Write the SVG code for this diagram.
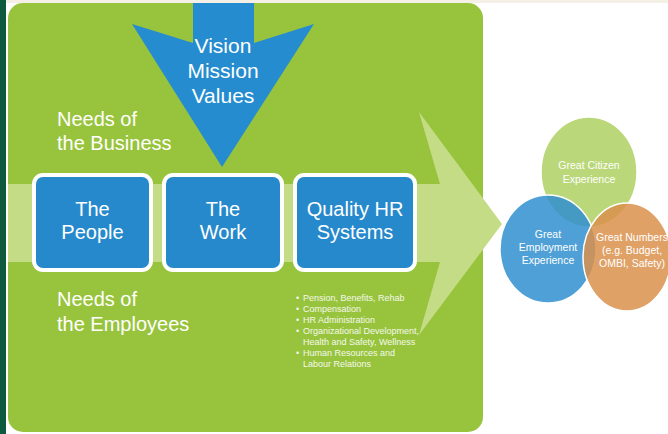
<svg xmlns="http://www.w3.org/2000/svg" width="668" height="434" viewBox="0 0 668 434">
  <defs>
    <style>
      .t { font-family: "Liberation Sans", Arial, sans-serif; fill: #ffffff; }
      .big { font-size: 20px; }
      .box { fill: #2689cc; stroke: #ffffff; stroke-width: 4; }
      .bul { font-size: 9px; fill: #f4f8ec; }
      .ct { font-size: 10.5px; text-anchor: middle; }
      .ring { stroke: #ffffff; stroke-width: 1.5; }
    </style>
  </defs>

  <!-- page background and edges -->
  <rect x="0" y="0" width="668" height="434" fill="#ffffff"/>
  <rect x="0" y="0" width="668" height="3" fill="#f5f0e6"/>
  <rect x="0" y="0" width="6" height="434" fill="#0d5a3f"/>

  <!-- green panel -->
  <rect x="8" y="3" width="475" height="429" rx="15" fill="#98c43d"/>

  <!-- wide light arrow pointing right -->
  <polygon points="8,184 440,184 419,112 502,224 419,335 440,262 8,262" fill="#c4dc86"/>

  <!-- down arrow -->
  <g id="vision">
    <polygon points="193,3 254,3 254,43 314,24 222,167 132,24 193,43" fill="#258ccf"/>
    <text class="t" x="223" y="53" font-size="21" text-anchor="middle">Vision</text>
    <text class="t" x="223" y="78" font-size="21" text-anchor="middle">Mission</text>
    <text class="t" x="223" y="103" font-size="21" text-anchor="middle">Values</text>
  </g>

  <g id="needs-business">
    <text class="t big" x="57" y="126">Needs of</text>
    <text class="t big" x="57" y="150">the Business</text>
  </g>

  <g id="needs-employees">
    <text class="t big" x="57" y="306">Needs of</text>
    <text class="t big" x="57" y="331">the Employees</text>
  </g>

  <g id="people">
    <rect class="box" x="34" y="175" width="117" height="95" rx="9"/>
    <text class="t big" x="92.5" y="216" text-anchor="middle">The</text>
    <text class="t big" x="92.5" y="239" text-anchor="middle">People</text>
  </g>

  <g id="work">
    <rect class="box" x="164" y="175" width="118" height="95" rx="9"/>
    <text class="t big" x="223" y="216" text-anchor="middle">The</text>
    <text class="t big" x="223" y="239" text-anchor="middle">Work</text>
  </g>

  <g id="hr-systems">
    <rect class="box" x="295" y="175" width="120" height="95" rx="9"/>
    <text class="t big" x="355" y="216" text-anchor="middle">Quality HR</text>
    <text class="t big" x="355" y="239" text-anchor="middle">Systems</text>
  </g>

  <g id="hr-list">
    <text class="t bul" x="296" y="301">•</text>
    <text class="t bul" x="303" y="301">Pension, Benefits, Rehab</text>
    <text class="t bul" x="296" y="312">•</text>
    <text class="t bul" x="303" y="312">Compensation</text>
    <text class="t bul" x="296" y="323">•</text>
    <text class="t bul" x="303" y="323">HR Administration</text>
    <text class="t bul" x="296" y="334">•</text>
    <text class="t bul" x="303" y="334">Organizational Development,</text>
    <text class="t bul" x="303" y="345">Health and Safety, Wellness</text>
    <text class="t bul" x="296" y="356">•</text>
    <text class="t bul" x="303" y="356">Human Resources and</text>
    <text class="t bul" x="303" y="367">Labour Relations</text>
  </g>

  <!-- outcome circles -->
  <g id="citizen">
    <ellipse class="ring" cx="589" cy="172" rx="48" ry="55" fill="#b4d56e" fill-opacity="0.92"/>
    <text class="t ct" x="589" y="169">Great Citizen</text>
    <text class="t ct" x="589" y="183">Experience</text>
  </g>

  <g id="employment">
    <ellipse class="ring" cx="548" cy="249" rx="48" ry="54" fill="#2f8fcf" fill-opacity="0.85"/>
    <text class="t ct" x="548" y="238">Great</text>
    <text class="t ct" x="548" y="251">Employment</text>
    <text class="t ct" x="548" y="264">Experience</text>
  </g>

  <g id="numbers">
    <ellipse class="ring" cx="627" cy="257" rx="44" ry="54" fill="#db914c" fill-opacity="0.85"/>
    <text class="t ct" x="632" y="241">Great Numbers</text>
    <text class="t ct" x="632" y="254">(e.g. Budget,</text>
    <text class="t ct" x="632" y="267">OMBI, Safety)</text>
  </g>
</svg>
